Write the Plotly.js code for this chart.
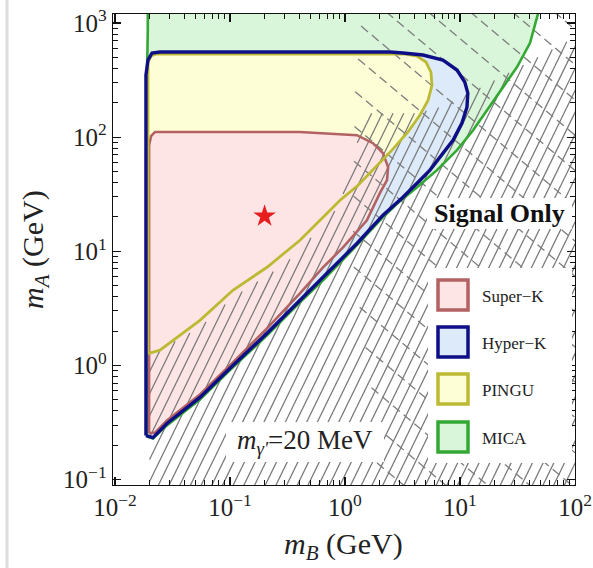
<!DOCTYPE html>
<html><head><meta charset="utf-8">
<script src="https://cdn.plot.ly/plotly-3.0.1.min.js"></script>
<style>html,body{margin:0;padding:0;background:#fff}</style>
</head><body><div id="chart" style="width:593px;height:568px"></div>
<script>
// ---- data (GeV) ----
const superK_mB = [0.0198, 0.0198, 0.0206, 0.0223, 0.406, 1.27, 1.75, 2.14, 2.37, 2.32, 2.01, 1.55, 0.962, 0.644, 0.406, 0.210, 0.106, 0.0548, 0.0283, 0.0223];
const superK_mA = [0.254, 85, 102, 111, 111, 104, 88.5, 72.4, 54.6, 42, 32.3, 18.7, 10.8, 7.24, 4.28, 2.11, 1.06, 0.557, 0.330, 0.258];

const hyperK_mB = [0.0186, 0.0186, 0.01937, 0.0210, 0.0246, 2.46, 3.19, 4.76, 7.11, 9.42, 11.0, 11.7, 11.5, 10.4, 8.69, 7.11, 5.48, 4.23, 3.19, 2.14, 1.27, 0.644, 0.406, 0.210, 0.106, 0.0548, 0.0283, 0.0214];
const hyperK_mA = [0.243, 350, 473, 546, 557, 557, 546, 524, 473, 387, 304, 243, 183, 133, 94, 72.4, 51.4, 39.5, 29.8, 20.7, 11.7, 5.92, 3.72, 1.91, 1.0, 0.524, 0.310, 0.233];

const pingu_mB = [0.01937, 0.01937, 0.0206, 0.0228, 3.33, 4.23, 5.06, 5.59, 5.71, 5.28, 4.49, 3.53, 2.56, 1.82, 1.30, 0.906, 0.644, 0.406, 0.210, 0.106, 0.0548, 0.0390, 0.0246];
const pingu_mA = [1.27, 455, 514, 535, 535, 514, 455, 372, 286, 211, 156, 111, 76.9, 53.5, 37.9, 28.0, 19.9, 12.5, 7.24, 4.55, 2.48, 1.91, 1.36];

const mica_mB = [0.019, 0.019, 0.0193, 0.0193, 50.6, 47.6, 40.6, 31.3, 23.7, 18.2, 13.0, 9.42, 6.31, 4.23, 3.01, 2.14, 1.27, 0.644, 0.406, 0.210, 0.106, 0.0548, 0.0283, 0.0214];
const mica_mA = [0.238, 350, 869, 1500, 1500, 1200, 668, 411, 275, 183, 115, 76.9, 51.4, 36.4, 27.5, 19.9, 11.3, 5.57, 3.57, 1.83, 0.96, 0.503, 0.298, 0.229];

// excluded (hatched) regions
const hatchSolid_mB = [0.02, 0.02, 0.0548, 0.106, 0.289, 0.406, 0.906, 1.22, 1.55, 4.23, 6.7, 18.2, 90.6, 120, 120];
const hatchSolid_mA = [0.08, 1.22, 2.15, 3.94, 7.53, 10.2, 25.4, 76.9, 162, 162, 183, 298, 710, 760, 0.08];
const hatchDash_mB = [1.44, 120, 120, 1.94, 1.82, 1.17, 1.22];
const hatchDash_mA = [1500, 1500, 0.08, 0.08, 0.40, 8.3, 233];

const benchmark_mB = [0.2];
const benchmark_mA = [20.3];

const xTickVals = [0.01, 0.1, 1, 10, 100];
const xTickText = ['10<sup>−2</sup>', '10<sup>−1</sup>', '10<sup>0</sup>', '10<sup>1</sup>', '10<sup>2</sup>'];
const yTickVals = [0.1, 1, 10, 100, 1000];
const yTickText = ['10<sup>−1</sup>', '10<sup>0</sup>', '10<sup>1</sup>', '10<sup>2</sup>', '10<sup>3</sup>'];

const legendNames = ['Super−K', 'Hyper−K', 'PINGU', 'MICA'];

// ---- styles ----
const FONT = '"Liberation Serif", "Times New Roman", Times, serif';
const col = {
  superK: {fill: 'rgb(253,229,229)', line: 'rgb(178,98,98)'},
  hyperK: {fill: 'rgb(220,234,249)', line: 'rgb(14,14,135)'},
  pingu:  {fill: 'rgb(254,254,214)', line: 'rgb(188,186,52)'},
  mica:   {fill: 'rgb(218,246,218)', line: 'rgb(52,168,52)'}
};

// ---- helpers ----
const SX = 115, SY = 114;
function hatch(mB, mA, angDeg, spacing, offset) {
  const P = mB.map((v, i) => [Math.log10(v) * SX, Math.log10(mA[i]) * SY]);
  const a = angDeg * Math.PI / 180, d = [Math.cos(a), Math.sin(a)], n = [-Math.sin(a), Math.cos(a)];
  const proj = P.map(p => p[0] * n[0] + p[1] * n[1]);
  const cmin = Math.min(...proj), cmax = Math.max(...proj);
  const xs = [], ys = [];
  for (let c = Math.ceil(cmin / spacing) * spacing + (offset || 0); c <= cmax; c += spacing) {
    const us = [];
    for (let i = 0; i < P.length; i++) {
      const j = (i + 1) % P.length;
      const s1 = proj[i] - c, s2 = proj[j] - c;
      if ((s1 < 0) !== (s2 < 0)) {
        const t = s1 / (s1 - s2);
        const q = [P[i][0] + t * (P[j][0] - P[i][0]), P[i][1] + t * (P[j][1] - P[i][1])];
        us.push(q[0] * d[0] + q[1] * d[1]);
      }
    }
    us.sort((p, q) => p - q);
    for (let k = 0; k + 1 < us.length; k += 2) {
      for (const u of [us[k], us[k + 1]]) {
        const X = c * n[0] + u * d[0], Y = c * n[1] + u * d[1];
        xs.push(Math.pow(10, X / SX)); ys.push(Math.pow(10, Y / SY));
      }
      xs.push(null); ys.push(null);
    }
  }
  return {xs, ys};
}
function minorVals(lo, hi) {
  const out = [];
  for (let e = lo; e < hi; e++) for (let m = 2; m <= 9; m++) out.push(m * Math.pow(10, e));
  return out;
}
const close = a => a.concat([a[0]]);
const L = 113, R = 575, T = 14, B = 485;
const px = v => (v - L) / (R - L);
const py = v => (B - v) / (B - T);

// ---- traces ----
const regions = [
  ['mica', mica_mB, mica_mA],
  ['hyperK', hyperK_mB, hyperK_mA],
  ['pingu', pingu_mB, pingu_mA],
  ['superK', superK_mB, superK_mA]
];
const traces = [];
regions.forEach(([k, x, y]) => traces.push({
  x: close(x), y: close(y), mode: 'none', fill: 'toself', fillcolor: col[k].fill,
  hoverinfo: 'skip', showlegend: false
}));
const hs = hatch(hatchSolid_mB, hatchSolid_mA, 64, 9.6, 0);
traces.push({x: hs.xs, y: hs.ys, mode: 'lines', line: {color: 'rgb(120,120,120)', width: 1.25},
  hoverinfo: 'skip', showlegend: false, connectgaps: false});
const hd = hatch(hatchDash_mB, hatchDash_mA, -40, 27, 0);
traces.push({x: hd.xs, y: hd.ys, mode: 'lines', line: {color: 'rgb(125,125,125)', width: 1.3, dash: '9px,5px'},
  hoverinfo: 'skip', showlegend: false, connectgaps: false});
[['mica', mica_mB, mica_mA, 2.6], ['superK', superK_mB, superK_mA, 2.6],
 ['pingu', pingu_mB, pingu_mA, 2.8], ['hyperK', hyperK_mB, hyperK_mA, 3.4]].forEach(([k, x, y, w]) =>
  traces.push({x: close(x), y: close(y), mode: 'lines', line: {color: col[k].line, width: w},
    hoverinfo: 'skip', showlegend: false}));
traces.push({x: benchmark_mB, y: benchmark_mA, mode: 'markers',
  marker: {symbol: 'star', size: 17, color: 'rgb(232,30,30)', line: {width: 0}}, showlegend: false});

// ---- layout ----
const shapes = [
  {type: 'line', xref: 'paper', yref: 'paper', x0: px(7), x1: px(7), y0: py(-5), y1: py(575),
   line: {color: 'rgb(222,222,222)', width: 3}, layer: 'above'},
  {type: 'rect', xref: 'paper', yref: 'paper', x0: px(427), x1: px(572), y0: py(229), y1: py(198),
   fillcolor: 'white', line: {width: 0}, layer: 'above'},
  {type: 'rect', xref: 'paper', yref: 'paper', x0: px(428), x1: px(572), y0: py(463), y1: py(268),
   fillcolor: 'white', line: {width: 0}, layer: 'above'},
  {type: 'rect', xref: 'paper', yref: 'paper', x0: px(226), x1: px(384), y0: py(462), y1: py(422),
   fillcolor: 'white', line: {width: 0}, layer: 'above'}
];
const legKeys = ['superK', 'hyperK', 'pingu', 'mica'];
const legTop = [280, 327, 374, 422];
const annotations = [];
legKeys.forEach((k, i) => {
  shapes.push({type: 'rect', xref: 'paper', yref: 'paper', x0: px(438), x1: px(468),
    y0: py(legTop[i] + 30), y1: py(legTop[i]), fillcolor: col[k].fill,
    line: {color: col[k].line, width: 3.5}, layer: 'above'});
  annotations.push({xref: 'paper', yref: 'paper', x: px(480), y: py(legTop[i] + 16), xanchor: 'left', yanchor: 'middle',
    text: legendNames[i], showarrow: false, font: {family: FONT, size: 17, color: '#222'}});
});
const ann = (x, y, text, size, extra) => Object.assign({xref: 'paper', yref: 'paper', x: px(x), y: py(y),
  xanchor: 'center', yanchor: 'middle', text: text, showarrow: false,
  font: {family: FONT, size: size, color: '#222'}}, extra || {});
annotations.push(
  ann(499, 213, '<b>Signal Only</b>', 26, {font: {family: FONT, size: 26, color: '#111'}}),
  ann(305, 442, '<i>m</i><sub><i>γ′</i></sub>=20 MeV', 27),
  ann(35, 250, '<i>m</i><sub><i>A</i></sub> (GeV)', 30, {textangle: -90}),
  ann(343, 546, '<i>m</i><sub><i>B</i></sub> (GeV)', 30)
);

const axisCommon = {
  type: 'log', showline: true, linecolor: '#111', linewidth: 1.3, mirror: 'allticks',
  ticks: 'inside', ticklen: 8, tickwidth: 1.1, tickcolor: '#111', showgrid: false, zeroline: false,
  tickmode: 'array', tickfont: {family: FONT, size: 25, color: '#222'}
};
const layout = {
  width: 593, height: 568, autosize: false,
  margin: {l: L, r: 593 - R, t: T, b: 568 - B, pad: 0},
  paper_bgcolor: 'white', plot_bgcolor: 'white', showlegend: false,
  xaxis: Object.assign({}, axisCommon, {range: [-2.017, 2.0], tickvals: xTickVals, ticktext: xTickText,
    minor: {ticks: 'inside', ticklen: 5, tickwidth: 1, tickcolor: '#111', tickmode: 'array', tickvals: minorVals(-2, 2), showgrid: false}}),
  yaxis: Object.assign({}, axisCommon, {range: [-1.048, 3.079], tickvals: yTickVals, ticktext: yTickText,
    minor: {ticks: 'inside', ticklen: 5, tickwidth: 1, tickcolor: '#111', tickmode: 'array', tickvals: minorVals(-1, 3), showgrid: false}}),
  shapes: shapes, annotations: annotations
};
Plotly.newPlot('chart', traces, layout, {staticPlot: true, displayModeBar: false});
</script></body></html>
